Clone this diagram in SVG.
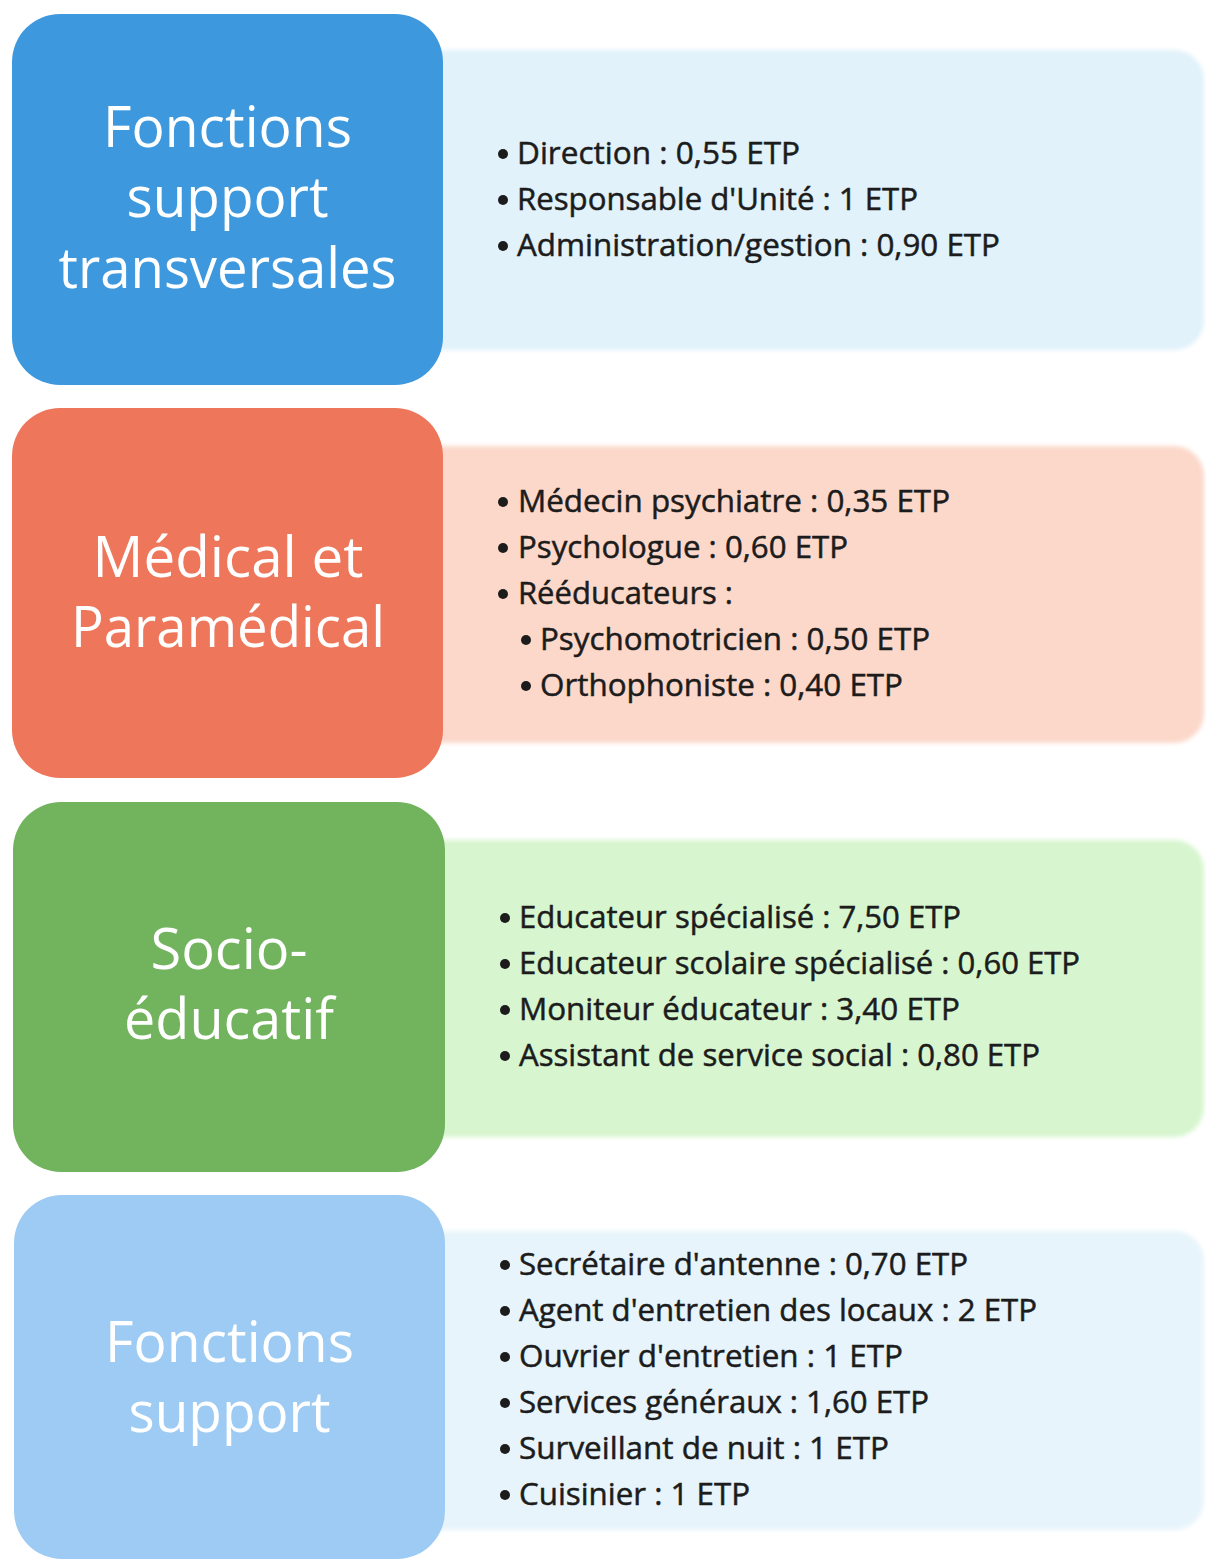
<svg xmlns="http://www.w3.org/2000/svg" width="1206" height="1560" viewBox="0 0 1206 1560">
<defs>
<style>
.title{font-family:"Open Sans","Noto Sans","Liberation Sans",sans-serif;font-size:56px;fill:#ffffff;text-anchor:middle}
.item{font-family:"Open Sans","Noto Sans","Liberation Sans",sans-serif;font-size:31px;fill:#1c1c1c;stroke:#1c1c1c;stroke-width:0.5}
.bul{fill:#1c1c1c}
</style>
<filter id="soft" x="-5%" y="-5%" width="110%" height="110%"><feGaussianBlur stdDeviation="2"/></filter>
</defs>
<rect width="1206" height="1560" fill="#ffffff"/>

<g id="node-fonctions-transversales">
<rect x="400" y="50" width="804" height="300" rx="30" fill="#e1f2fa" filter="url(#soft)"/>
<rect x="12" y="14" width="431" height="371" rx="48" fill="#3d98dd"/>
<text class="title" x="227.5" y="147" textLength="249" lengthAdjust="spacingAndGlyphs">Fonctions</text>
<text class="title" x="227.5" y="217" textLength="202" lengthAdjust="spacingAndGlyphs">support</text>
<text class="title" x="227.5" y="288" textLength="338" lengthAdjust="spacingAndGlyphs">transversales</text>
<circle class="bul" cx="503" cy="154" r="5"/>
<text class="item" x="517" y="164" textLength="283" lengthAdjust="spacingAndGlyphs">Direction : 0,55 ETP</text>
<circle class="bul" cx="503" cy="200" r="5"/>
<text class="item" x="517" y="210" textLength="401" lengthAdjust="spacingAndGlyphs">Responsable d'Unité : 1 ETP</text>
<circle class="bul" cx="503" cy="246" r="5"/>
<text class="item" x="517" y="256" textLength="483" lengthAdjust="spacingAndGlyphs">Administration/gestion : 0,90 ETP</text>
</g>

<g id="node-medical">
<rect x="400" y="446" width="804" height="297" rx="30" fill="#fcd8ca" filter="url(#soft)"/>
<rect x="12" y="408" width="431" height="370" rx="48" fill="#ed765b"/>
<text class="title" x="228" y="577" textLength="271" lengthAdjust="spacingAndGlyphs">Médical et</text>
<text class="title" x="228" y="647" textLength="314" lengthAdjust="spacingAndGlyphs">Paramédical</text>
<circle class="bul" cx="503" cy="502" r="5"/>
<text class="item" x="518" y="512" textLength="432" lengthAdjust="spacingAndGlyphs">Médecin psychiatre : 0,35 ETP</text>
<circle class="bul" cx="503" cy="548" r="5"/>
<text class="item" x="518" y="558" textLength="330" lengthAdjust="spacingAndGlyphs">Psychologue : 0,60 ETP</text>
<circle class="bul" cx="503" cy="594" r="5"/>
<text class="item" x="518" y="604" textLength="215" lengthAdjust="spacingAndGlyphs">Rééducateurs :</text>
<circle class="bul" cx="526" cy="640" r="5"/>
<text class="item" x="540" y="650" textLength="390" lengthAdjust="spacingAndGlyphs">Psychomotricien : 0,50 ETP</text>
<circle class="bul" cx="526" cy="686" r="5"/>
<text class="item" x="540" y="696" textLength="363" lengthAdjust="spacingAndGlyphs">Orthophoniste : 0,40 ETP</text>
</g>

<g id="node-socio-educatif">
<rect x="400" y="840" width="804" height="297" rx="30" fill="#d7f6cf" filter="url(#soft)"/>
<rect x="13" y="802" width="432" height="370" rx="48" fill="#72b35e"/>
<text class="title" x="229" y="969" textLength="157" lengthAdjust="spacingAndGlyphs">Socio-</text>
<text class="title" x="229" y="1039" textLength="210" lengthAdjust="spacingAndGlyphs">éducatif</text>
<circle class="bul" cx="505" cy="918" r="5"/>
<text class="item" x="519" y="928" textLength="442" lengthAdjust="spacingAndGlyphs">Educateur spécialisé : 7,50 ETP</text>
<circle class="bul" cx="505" cy="964" r="5"/>
<text class="item" x="519" y="974" textLength="561" lengthAdjust="spacingAndGlyphs">Educateur scolaire spécialisé : 0,60 ETP</text>
<circle class="bul" cx="505" cy="1010" r="5"/>
<text class="item" x="519" y="1020" textLength="441" lengthAdjust="spacingAndGlyphs">Moniteur éducateur : 3,40 ETP</text>
<circle class="bul" cx="505" cy="1056" r="5"/>
<text class="item" x="519" y="1066" textLength="521" lengthAdjust="spacingAndGlyphs">Assistant de service social : 0,80 ETP</text>
</g>

<g id="node-fonctions-support">
<rect x="400" y="1231" width="804" height="299" rx="30" fill="#e7f4fb" filter="url(#soft)"/>
<rect x="14" y="1195" width="431" height="364" rx="48" fill="#9dcbf3"/>
<text class="title" x="229.5" y="1362" textLength="249" lengthAdjust="spacingAndGlyphs">Fonctions</text>
<text class="title" x="229.5" y="1432" textLength="202" lengthAdjust="spacingAndGlyphs">support</text>
<circle class="bul" cx="505" cy="1265" r="5"/>
<text class="item" x="519" y="1275" textLength="449" lengthAdjust="spacingAndGlyphs">Secrétaire d'antenne : 0,70 ETP</text>
<circle class="bul" cx="505" cy="1311" r="5"/>
<text class="item" x="519" y="1321" textLength="518" lengthAdjust="spacingAndGlyphs">Agent d'entretien des locaux : 2 ETP</text>
<circle class="bul" cx="505" cy="1357" r="5"/>
<text class="item" x="519" y="1367" textLength="384" lengthAdjust="spacingAndGlyphs">Ouvrier d'entretien : 1 ETP</text>
<circle class="bul" cx="505" cy="1403" r="5"/>
<text class="item" x="519" y="1413" textLength="410" lengthAdjust="spacingAndGlyphs">Services généraux : 1,60 ETP</text>
<circle class="bul" cx="505" cy="1449" r="5"/>
<text class="item" x="519" y="1459" textLength="370" lengthAdjust="spacingAndGlyphs">Surveillant de nuit : 1 ETP</text>
<circle class="bul" cx="505" cy="1495" r="5"/>
<text class="item" x="519" y="1505" textLength="231" lengthAdjust="spacingAndGlyphs">Cuisinier : 1 ETP</text>
</g>

<g id="connectors"></g>
</svg>
